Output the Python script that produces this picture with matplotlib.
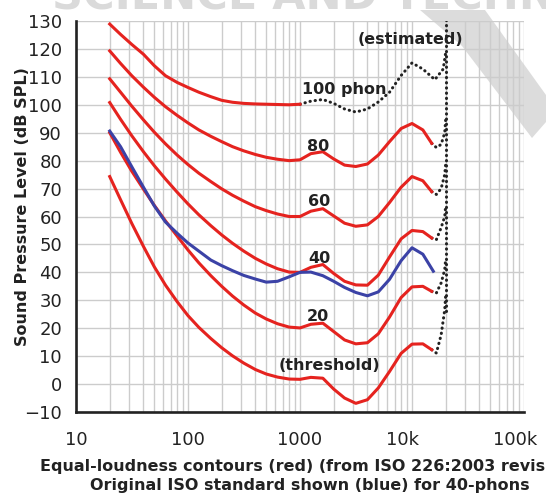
import matplotlib
matplotlib.use('Agg')
import matplotlib.pyplot as plt
import matplotlib.transforms as mtransforms
from matplotlib.patches import Polygon
from matplotlib.ticker import LogLocator, NullFormatter, FixedLocator

# frequencies (Hz) the contours are read at
freqs = [20, 25, 31.5, 40, 50, 63, 80, 100, 125, 160, 200, 250, 315, 400, 500,
         630, 800, 1000, 1250, 1600, 2000, 2500, 3150, 4000, 5000, 6300, 8000,
         10000, 12500, 15000]

# red contours, dB SPL
threshold = [74.3, 66.0, 57.5, 49.3, 42.0, 35.4, 29.5, 24.5, 20.3, 16.3, 13.0, 10.1,
             7.5, 5.2, 3.6, 2.5, 1.8, 1.7, 2.4, 2.1, -1.8, -5.0, -6.9, -5.6, -1.4,
             4.5, 11.0, 14.3, 14.4, 12.3]
phon20 = [90.0, 83.0, 76.2, 69.8, 64.0, 58.4, 53.0, 48.0, 43.4, 38.8, 35.0, 31.5,
          28.3, 25.4, 23.3, 21.6, 20.4, 20.1, 21.4, 21.8, 18.8, 15.8, 14.4, 14.8,
          18.0, 24.0, 31.0, 34.8, 35.0, 33.2]
phon40 = [100.8, 94.8, 88.9, 83.2, 78.2, 73.4, 68.7, 64.5, 60.6, 56.7, 53.4, 50.4,
          47.6, 45.0, 43.0, 41.3, 40.1, 40.0, 41.8, 42.8, 39.6, 36.8, 35.5, 35.4,
          39.0, 45.5, 52.0, 55.0, 54.6, 52.3]
phon60 = [109.3, 104.5, 99.5, 94.6, 90.2, 86.0, 82.0, 78.6, 75.5, 72.5, 69.9, 67.6,
          65.5, 63.5, 62.1, 60.9, 60.0, 60.0, 61.9, 62.8, 60.2, 57.6, 56.5, 57.0,
          60.0, 65.0, 70.5, 74.3, 72.8, 68.9]
phon80 = [119.3, 114.8, 110.4, 106.3, 102.7, 99.3, 96.2, 93.5, 91.0, 88.7, 86.8, 85.0,
          83.5, 82.2, 81.2, 80.5, 80.0, 80.3, 82.5, 83.2, 80.6, 78.4, 77.9, 78.8,
          82.0, 86.8, 91.5, 93.3, 91.0, 86.2]
phon100_freqs = freqs[:18]
phon100 = [128.9, 125.2, 121.6, 118.1, 114.0, 110.4, 108.0, 106.2, 104.5, 102.9,
           101.6, 100.9, 100.5, 100.3, 100.2, 100.1, 100.0, 100.2]

# estimated (dotted) parts
phon100_est_freqs = [1000, 1250, 1600, 2000, 2500, 3150, 4000, 5000, 6300, 8000,
                     10000, 12500, 16000, 19000, 20000]
phon100_est = [100.2, 101.3, 101.9, 100.5, 98.5, 97.4, 98.5, 101.0, 104.5, 110.5,
               115.0, 112.8, 109.0, 112.8, 118.8]
hook_freqs = [15000, 16500, 18200, 19600, 20000]
threshold_hook = [12.3, 11.1, 17.6, 26.6, 32.0]
phon20_hook = [33.2, 32.6, 36.2, 41.0, 45.0]
phon40_hook = [52.3, 51.7, 56.0, 60.0, 64.0]
phon60_hook = [68.9, 67.9, 70.0, 75.0, 79.0]
phon80_hook = [86.2, 84.7, 85.8, 90.0, 95.0]
edge_freqs = [20000, 20000]
edge_db = [26, 132]

# original ISO 40 phon curve (blue)
blue_freqs = freqs[:-1] + [15500]
blue40 = [90.6, 85.0, 77.8, 70.5, 63.8, 58.0, 54.0, 50.5, 47.6, 44.4, 42.4, 40.6,
          38.9, 37.6, 36.5, 36.8, 38.4, 40.0, 40.1, 38.8, 36.8, 34.6, 32.8, 31.6,
          33.0, 37.5, 44.2, 48.8, 46.5, 40.4]

xticks = [10, 100, 1000, 10000, 100000]
xtick_labels = ['10', '100', '1000', '10k', '100k']
yticks = list(range(-10, 131, 10))

red = '#e5231f'
blue = '#3b42a6'
ink = '#222222'

fig = plt.figure(figsize=(5.46, 4.93), dpi=100)
W, H = 546, 493

# watermark behind everything
fig.text(52 / W, 1 - 10 / H, 'SCIENCE AND TECHNOLOGY', fontsize=31,
         fontweight='bold', color='#dadada', va='baseline', ha='left', zorder=-2)
vpts = [(420, 10), (485, 10), (546, 95), (546, 122), (532, 138), (462, 46)]
fig.patches.append(Polygon([(x / W, 1 - y / H) for x, y in vpts], closed=True,
                           transform=fig.transFigure, facecolor='#cacaca',
                           edgecolor='none', alpha=0.65, zorder=-1))

ax = fig.add_axes([76 / W, 1 - 412 / H, 448 / W, 391 / H])
ax.patch.set_alpha(0)
ax.set_xscale('log')
ax.set_xlim(10, 100000)
ax.set_ylim(-10, 130)

ax.xaxis.set_major_locator(FixedLocator(xticks))
ax.xaxis.set_minor_locator(LogLocator(base=10, subs=range(2, 10)))
ax.xaxis.set_minor_formatter(NullFormatter())
ax.set_xticklabels(xtick_labels)
ax.set_yticks(yticks)
ax.grid(True, which='both', axis='x', color='#cccccc', lw=1.0, zorder=0)
ax.grid(True, which='major', axis='y', color='#cccccc', lw=1.0, zorder=0)
ax.tick_params(which='both', length=0)
ax.tick_params(axis='x', pad=14, labelsize=13, labelcolor=ink)
ax.tick_params(axis='y', pad=10, labelsize=13, labelcolor=ink)
for lab, t in zip(ax.get_xticklabels(), xtick_labels):
    if 'k' in t:
        lab.set_transform(lab.get_transform() +
                          mtransforms.ScaledTranslation(-9 / 100, 0, fig.dpi_scale_trans))

for s in ['top', 'right']:
    ax.spines[s].set_visible(False)
for s in ['left', 'bottom']:
    ax.spines[s].set_color(ink)
    ax.spines[s].set_linewidth(1.9)

dots = dict(color=ink, lw=2.2, linestyle=(0, (0.1, 1.6)), dash_capstyle='round', zorder=3)
ax.plot(phon100_est_freqs, phon100_est, **dots)
for hook in [threshold_hook, phon20_hook, phon40_hook, phon60_hook, phon80_hook]:
    ax.plot(hook_freqs, hook, **dots)
ax.plot(edge_freqs, edge_db, **dots)

for curve in [threshold, phon20, phon40, phon60, phon80]:
    ax.plot(freqs, curve, color=red, lw=2.2, solid_joinstyle='round', zorder=4)
ax.plot(phon100_freqs, phon100, color=red, lw=2.2, solid_joinstyle='round', zorder=4)
ax.plot(blue_freqs, blue40, color=blue, lw=2.2, solid_joinstyle='round', zorder=5)

lab = dict(fontsize=11.5, fontweight='bold', color=ink, va='center', zorder=6)
ax.text(9600, 123.2, '(estimated)', ha='center', **lab)
ax.text(1035, 105.3, '100 phon', ha='left', **lab)
ax.text(1450, 85, '80', ha='center', **lab)
ax.text(1480, 65.5, '60', ha='center', **lab)
ax.text(1480, 44.8, '40', ha='center', **lab)
ax.text(1430, 24.2, '20', ha='center', **lab)
ax.text(1850, 6.5, '(threshold)', ha='center', **lab)

ax.set_ylabel('Sound Pressure Level (dB SPL)', fontsize=11.5, fontweight='bold', color=ink)
ax.yaxis.set_label_coords((30 - 76) / 448, (412 - 207) / 391)

fig.text(40 / W, 1 - 467 / H, 'Equal-loudness contours (red) (from ISO 226:2003 revision)',
         fontsize=11.5, fontweight='bold', color=ink, ha='left', va='center')
fig.text(90 / W, 1 - 485.5 / H, 'Original ISO standard shown (blue) for 40-phons',
         fontsize=11.5, fontweight='bold', color=ink, ha='left', va='center')

fig.savefig('out.png', dpi=100)
